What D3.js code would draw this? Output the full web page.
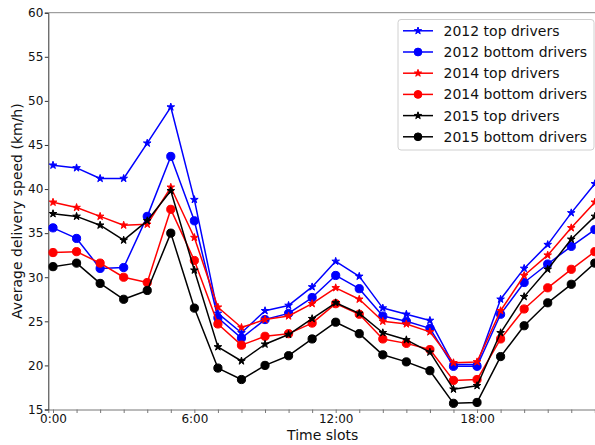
<!DOCTYPE html>
<html>
<head>
<meta charset="utf-8">
<script src="https://cdn.jsdelivr.net/npm/d3@7"></script>
<style>
  html, body { margin: 0; padding: 0; background: #fff; overflow: hidden; }
  svg { display: block; font-family: "DejaVu Sans", sans-serif; }
</style>
</head>
<body>
<svg id="chart" width="595" height="445"></svg>
<script>
// Hourly time slots and average delivery speed (km/h) per driver group
const hours = [0, 1, 2, 3, 4, 5, 6, 7, 8, 9, 10, 11, 12, 13, 14, 15, 16, 17, 18, 19, 20, 21, 22, 23];
const xTickValues = [0, 6, 12, 18];
const xTickLabels = ["0:00", "6:00", "12:00", "18:00"];
const yTickValues = [15, 20, 25, 30, 35, 40, 45, 50, 55, 60];

const top2012    = [42.7, 42.4, 41.2, 41.2, 45.2, 49.3, 38.8, 25.9, 23.7, 26.2, 26.8, 28.9, 31.8, 30.1, 26.5, 25.8, 25.1, 20.1, 20.1, 27.5, 31.0, 33.7, 37.3, 40.6];
const bottom2012 = [35.6, 34.4, 31.0, 31.1, 36.9, 43.7, 36.4, 25.4, 23.1, 25.2, 25.9, 27.7, 30.2, 28.7, 25.6, 25.0, 24.2, 19.9, 19.9, 25.8, 29.4, 31.5, 33.5, 35.4];
const top2014    = [38.5, 37.9, 36.9, 35.9, 36.0, 40.2, 34.5, 26.6, 24.3, 25.2, 25.6, 27.0, 28.8, 27.5, 25.0, 24.7, 23.8, 20.3, 20.4, 26.2, 30.2, 32.5, 35.6, 38.5];
const bottom2014 = [32.8, 32.9, 31.6, 30.0, 29.4, 37.7, 31.9, 24.7, 22.3, 23.3, 23.6, 24.8, 27.0, 25.8, 23.0, 22.5, 21.8, 18.3, 18.4, 23.0, 26.4, 28.8, 30.9, 32.9];
const top2015    = [37.2, 36.9, 35.9, 34.2, 36.4, 39.8, 30.8, 22.1, 20.5, 22.4, 23.5, 25.3, 27.1, 25.9, 23.7, 22.9, 21.5, 17.3, 17.7, 23.7, 27.8, 30.9, 34.3, 36.9];
const bottom2015 = [31.2, 31.6, 29.3, 27.5, 28.5, 35.0, 26.5, 19.7, 18.4, 20.0, 21.1, 23.0, 24.9, 23.6, 21.2, 20.4, 19.4, 15.7, 15.8, 21.0, 24.5, 27.1, 29.2, 31.6];

const seriesNames  = ["2012 top drivers", "2012 bottom drivers", "2014 top drivers", "2014 bottom drivers", "2015 top drivers", "2015 bottom drivers"];
const seriesValues = [top2012, bottom2012, top2014, bottom2014, top2015, bottom2015];
const seriesColors = ["#0000ff", "#0000ff", "#ff0000", "#ff0000", "#000000", "#000000"];
const seriesMarkers = ["star", "circle", "star", "circle", "star", "circle"];

const margin = { left: 48.3, top: 12.7, right: 596, bottom: 409.5 };

const svg = d3.select("#chart");

const x = d3.scaleLinear().domain([-0.2, 23.05]).range([margin.left, margin.right]);
const y = d3.scaleLinear().domain([15, 60]).range([margin.bottom, margin.top]);

// Marker shapes
const starSym = d3.symbol().type(d3.symbolStar).size(4.0 * 4.0 / 0.8908);
const circleSym = d3.symbol().type(d3.symbolCircle).size(Math.PI * 4.1 * 4.1);
const markerPath = m => (m === "star" ? starSym() : circleSym());

// Axes
const xAxis = d3.axisBottom(x)
  .tickValues(hours)
  .tickSize(3.5)
  .tickPadding(1.5)
  .tickFormat(d => {
    const i = xTickValues.indexOf(d);
    return i >= 0 ? xTickLabels[i] : "";
  });

const yAxis = d3.axisLeft(y)
  .tickValues(yTickValues)
  .tickSize(3.5)
  .tickPadding(1.5)
  .tickFormat(d3.format("d"));

const gx = svg.append("g")
  .attr("transform", `translate(0,${margin.bottom})`)
  .call(xAxis);
gx.select(".domain").attr("stroke", "#777").attr("stroke-width", 1);
gx.selectAll(".tick line").attr("stroke", "#777");
gx.selectAll(".tick text").attr("font-size", 12).attr("fill", "#111")
  .attr("font-family", "DejaVu Sans");

const gy = svg.append("g")
  .attr("transform", `translate(${margin.left},0)`)
  .call(yAxis);
gy.select(".domain").attr("stroke", "#333").attr("stroke-width", 1);
gy.selectAll(".tick line").attr("stroke", "#333");
gy.selectAll(".tick text").attr("font-size", 12).attr("fill", "#111")
  .attr("font-family", "DejaVu Sans");

// Top spine
svg.append("line")
  .attr("x1", margin.left).attr("x2", margin.right)
  .attr("y1", margin.top).attr("y2", margin.top)
  .attr("stroke", "#888").attr("stroke-width", 1);

// Axis titles
svg.append("text")
  .attr("x", (margin.left + margin.right) / 2 + 0.5)
  .attr("y", 440)
  .attr("text-anchor", "middle")
  .attr("font-size", 14)
  .attr("fill", "#111")
  .text("Time slots");

svg.append("text")
  .attr("transform", `translate(21.5,${(margin.top + margin.bottom) / 2}) rotate(-90)`)
  .attr("text-anchor", "middle")
  .attr("font-size", 14)
  .attr("fill", "#111")
  .text("Average delivery speed (km/h)");

// Series lines and markers
const line = d3.line().x((d, i) => x(hours[i])).y(d => y(d));

seriesValues.forEach((vals, s) => {
  const g = svg.append("g");
  g.append("path")
    .datum(vals)
    .attr("d", line)
    .attr("fill", "none")
    .attr("stroke", seriesColors[s])
    .attr("stroke-width", 1.5)
    .attr("stroke-linejoin", "round");
  g.selectAll("path.mk")
    .data(vals)
    .join("path")
    .attr("class", "mk")
    .attr("transform", (d, i) => `translate(${x(hours[i])},${y(d)})`)
    .attr("d", markerPath(seriesMarkers[s]))
    .attr("fill", seriesColors[s])
    .attr("stroke", seriesColors[s])
    .attr("stroke-width", 1);
});

// Legend
const legend = svg.append("g");
legend.append("rect")
  .attr("x", 398).attr("y", 19.5)
  .attr("width", 196).attr("height", 130.5)
  .attr("rx", 3)
  .attr("fill", "#fff").attr("fill-opacity", 0.85)
  .attr("stroke", "#d0d0d0").attr("stroke-width", 1);

const legendStarSym = d3.symbol().type(d3.symbolStar).size(3.8 * 3.8 / 0.8908);
const legendCircleSym = d3.symbol().type(d3.symbolCircle).size(Math.PI * 3.9 * 3.9);

seriesNames.forEach((name, s) => {
  const cy = 30.8 + s * 21.2;
  const row = legend.append("g");
  row.append("line")
    .attr("x1", 403).attr("x2", 433)
    .attr("y1", cy).attr("y2", cy)
    .attr("stroke", seriesColors[s]).attr("stroke-width", 1.5);
  row.append("path")
    .attr("transform", `translate(418,${cy})`)
    .attr("d", seriesMarkers[s] === "star" ? legendStarSym() : legendCircleSym())
    .attr("fill", seriesColors[s])
    .attr("stroke", seriesColors[s]).attr("stroke-width", 1);
  row.append("text")
    .attr("x", 443.5).attr("y", cy)
    .attr("dy", "0.36em")
    .attr("font-size", 14)
    .attr("fill", "#111")
    .text(name);
});
</script>
</body>
</html>
